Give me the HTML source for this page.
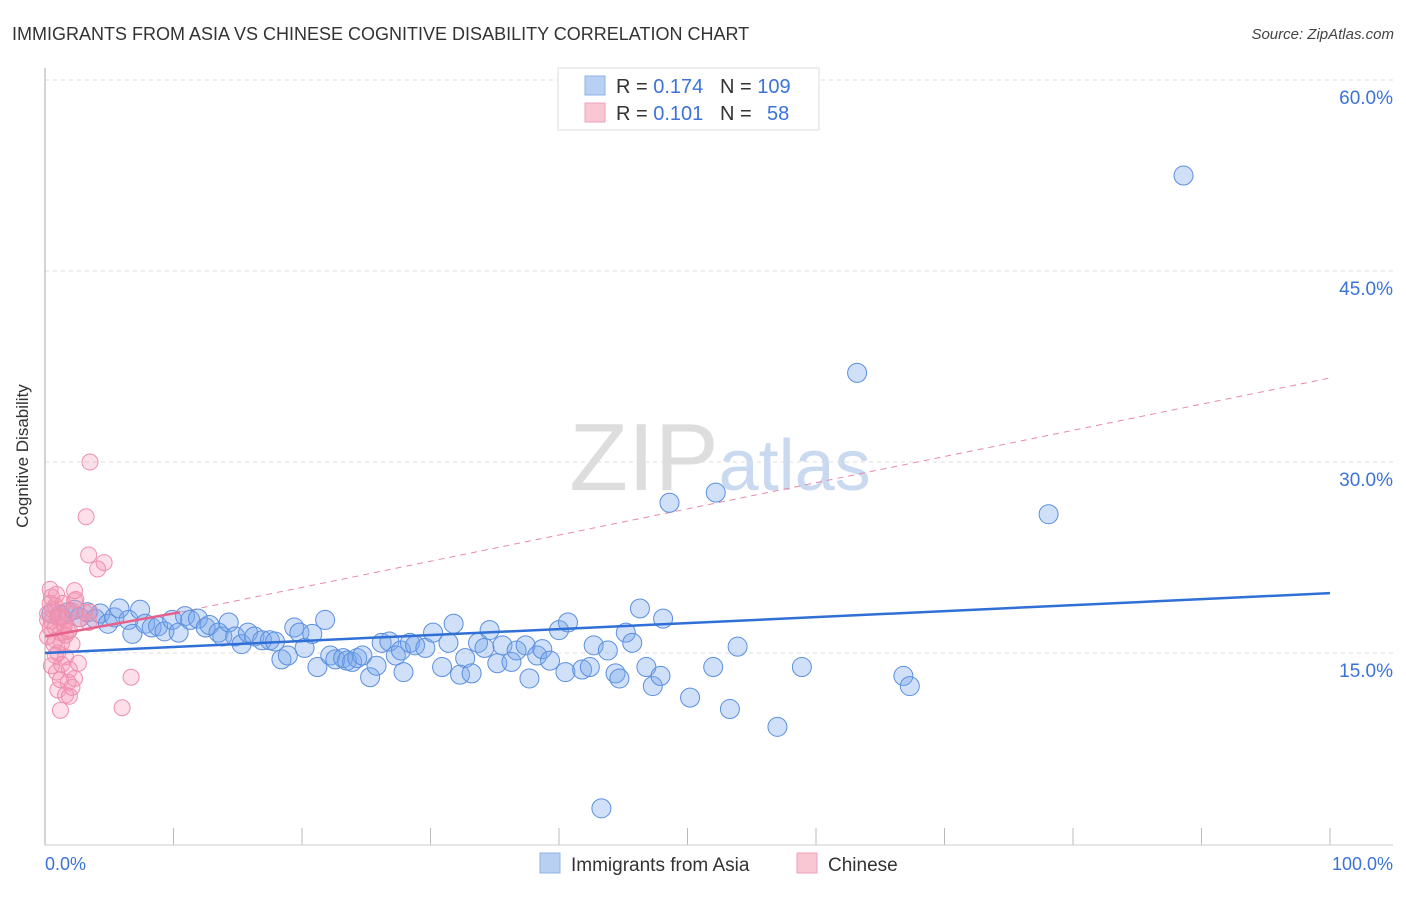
<!DOCTYPE html>
<html><head><meta charset="utf-8"><style>
body{margin:0;background:#fff;font-family:"Liberation Sans",sans-serif;}
svg text{font-family:"Liberation Sans",sans-serif;}
</style></head><body>
<svg id="chart" width="1406" height="892" xmlns="http://www.w3.org/2000/svg">
<text x="12" y="40" font-size="18" fill="#333">IMMIGRANTS FROM ASIA VS CHINESE COGNITIVE DISABILITY CORRELATION CHART</text>
<text x="1394" y="39" font-size="15" fill="#444" font-style="italic" text-anchor="end">Source: ZipAtlas.com</text>
<text x="720" y="490" font-size="96" fill="#ddd" text-anchor="middle" font-family="Liberation Serif">ZIP<tspan fill="#c9daf0" font-family="Liberation Sans" font-size="72">atlas</tspan></text>
<g id="grid"></g>
<line x1="45" y1="68" x2="45" y2="845" stroke="#aaa"/>
<line x1="45" y1="845" x2="1393" y2="845" stroke="#ccc"/>
<text x="28" y="456" font-size="17" fill="#333" text-anchor="middle" transform="rotate(-90 28 456)">Cognitive Disability</text>
<text x="45" y="870" font-size="18" fill="#3b73d9">0.0%</text>
<text x="1393" y="870" font-size="18" fill="#3b73d9" text-anchor="end">100.0%</text>
<g id="marks"></g>
<g>
<rect x="558" y="68" width="261" height="62" fill="#fff" stroke="#ddd"/>
<rect x="585" y="76" width="20" height="19" fill="#b8d1f3" stroke="#8fb2e6"/>
<rect x="585" y="103" width="20" height="19" fill="#f9c6d4" stroke="#f0a3ba"/>
<text x="616" y="93" font-size="20" fill="#333">R = <tspan fill="#3b73d9">0.174</tspan><tspan x="720">N = </tspan><tspan fill="#3b73d9">109</tspan></text>
<text x="616" y="120" font-size="20" fill="#333">R = <tspan fill="#3b73d9">0.101</tspan><tspan x="720">N = </tspan><tspan fill="#3b73d9" x="767">58</tspan></text>
</g>
<g>
<rect x="540" y="853" width="20" height="20" fill="#b8d1f3" stroke="#8fb2e6"/>
<text x="571" y="871" font-size="19" fill="#333">Immigrants from Asia</text>
<rect x="797" y="853" width="20" height="20" fill="#f9c6d4" stroke="#f0a3ba"/>
<text x="828" y="871" font-size="19" fill="#333">Chinese</text>
</g>
</svg>
<script>
const yTicks=[15,30,45,60];
const yTickLabels=["15.0%","30.0%","45.0%","60.0%"];
const xTicks=[10,20,30,40,50,60,70,80,90,100];
const asiaX=[
0.5,1.2,1.8,2.3,2.7,3.3,3.9,4.3,4.9,5.4,
5.8,6.5,6.8,7.4,7.8,8.3,8.8,9.3,9.9,10.4,
10.9,11.3,11.9,12.5,12.8,13.5,13.8,14.3,14.8,15.3,
15.8,16.3,16.9,17.5,17.9,18.4,18.9,19.4,19.8,20.2,
20.8,21.2,21.8,22.2,22.6,23.2,23.5,23.9,24.3,24.7,
25.3,25.8,26.2,26.8,27.3,27.7,27.9,28.4,28.8,29.6,
30.2,30.9,31.4,31.8,32.3,32.7,33.2,33.7,34.2,34.6,
35.2,35.6,36.3,36.7,37.4,37.7,38.3,38.7,39.3,40.0,
40.5,40.7,41.8,42.4,42.7,43.3,43.8,44.4,44.7,45.2,
45.7,46.3,46.8,47.3,47.9,48.1,48.6,50.2,52.0,52.2,
53.3,53.9,57.0,58.9,63.2,66.8,67.3,78.1,88.6];
const asiaY=[
18.1,18.0,18.2,18.4,17.8,18.2,17.7,18.1,17.3,17.8,
18.5,17.6,16.5,18.4,17.3,17.0,17.1,16.7,17.6,16.6,
17.9,17.6,17.7,17.0,17.2,16.6,16.3,17.4,16.3,15.7,
16.6,16.3,16.0,16.0,15.9,14.5,14.8,17.0,16.6,15.4,
16.5,13.9,17.6,14.8,14.5,14.6,14.4,14.3,14.6,14.8,
13.1,14.0,15.8,15.9,14.8,15.2,13.5,15.8,15.6,15.4,
16.6,13.9,15.8,17.3,13.3,14.6,13.4,15.8,15.4,16.8,
14.2,15.6,14.3,15.2,15.6,13.0,14.8,15.3,14.4,16.8,
13.5,17.4,13.7,13.9,15.6,2.8,15.2,13.4,13.0,16.6,
15.8,18.5,13.9,12.4,13.2,17.7,26.8,11.5,13.9,27.6,
10.6,15.5,9.2,13.9,37.0,13.2,12.4,25.9,52.5];
const chnX=[0.4,0.5,0.8,0.2,0.5,0.8,1.2,0.2,0.8,1.3,1.6,1.5,1.9,1.0,1.6,0.5,1.3,1.9,2.6,0.9,1.8,2.3,1.0,1.6,1.9,1.2,2.3,2.1,2.7,3.1,3.4,3.5,2.4,3.5,3.2,3.4,4.6,4.1,6.7,6.0,1.2,1.3,0.4,0.7,1.6,2.1,0.2,0.6,1.0,1.5,1.8,0.8,1.2,2.1,0.4,0.9,1.4,2.3];
const chnY=[20.0,19.4,18.7,18.1,17.5,17.0,16.6,16.3,16.0,15.8,17.6,17.2,16.8,15.0,14.7,14.0,14.1,13.7,14.2,13.5,12.7,13.0,12.1,11.7,11.6,10.5,19.1,18.3,17.7,18.2,17.4,18.2,19.2,30.0,25.7,22.7,22.1,21.6,13.1,10.7,18.2,17.8,17.0,15.7,16.4,15.7,17.6,18.4,17.8,17.2,16.7,14.8,12.9,12.3,18.9,19.6,18.9,19.9];
const asiaTrend=[0,15.0,100,19.7];
const chnTrend=[0,16.3,10.5,18.2,100,36.6];
const X=v=>45+v*12.85, Y=v=>844-v*12.733;
const NS="http://www.w3.org/2000/svg";
function mk(t,a,p){const e=document.createElementNS(NS,t);for(const k in a)e.setAttribute(k,a[k]);p.appendChild(e);return e;}
const grid=document.getElementById('grid'), marks=document.getElementById('marks');
yTicks.forEach((v,i)=>{
 const l=mk('line',{x1:45,x2:1393,y1:Y(v),y2:Y(v),stroke:'#ddd','stroke-dasharray':'4,4'},grid);
 
 
 const t=mk('text',{x:1393,y:Y(v)+24,'font-size':19,fill:'#3b73d9','text-anchor':'end'},grid);
 t.textContent=yTickLabels[i];
 
 
});
xTicks.forEach(v=>{
 const l=mk('line',{x1:X(v),x2:X(v),y1:828,y2:845,stroke:'#bbb'},grid);
 
 
});
const dl=mk('line',{x1:X(chnTrend[2]),y1:Y(chnTrend[3]),x2:X(chnTrend[4]),y2:Y(chnTrend[5]),stroke:'#e88aa6','stroke-width':1,'stroke-dasharray':'6,5'},marks);


asiaX.forEach((v,i)=>{
 const c=mk('circle',{cx:X(v),cy:Y(asiaY[i]),r:9.5,fill:'rgba(120,165,235,0.35)',stroke:'#5b8fe0','stroke-width':1},marks);
 
 
});
chnX.forEach((v,i)=>{
 const c=mk('circle',{cx:X(v),cy:Y(chnY[i]),r:8,fill:'rgba(245,150,180,0.3)',stroke:'#ee8eae','stroke-width':1},marks);
 
 
});
const bl=mk('line',{x1:X(asiaTrend[0]),y1:Y(asiaTrend[1]),x2:X(asiaTrend[2]),y2:Y(asiaTrend[3]),stroke:'#2f6fd6','stroke-width':2.5},marks);


const pl=mk('line',{x1:X(chnTrend[0]),y1:Y(chnTrend[1]),x2:X(chnTrend[2]),y2:Y(chnTrend[3]),stroke:'#e8618a','stroke-width':2.5},marks);


</script>
</body></html>
